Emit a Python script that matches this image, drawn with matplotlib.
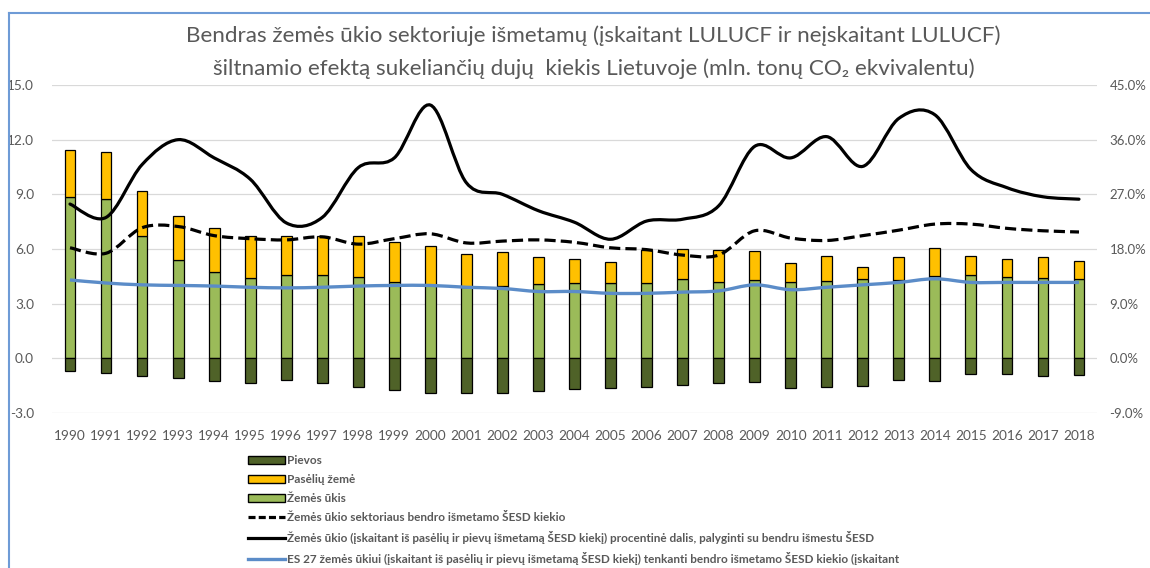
import matplotlib
matplotlib.use("Agg")
import matplotlib.pyplot as plt
import numpy as np
from matplotlib.path import Path
from matplotlib.patches import PathPatch, Patch
from matplotlib.lines import Line2D

years = list(range(1990, 2019))

# mln. t CO2 ekv. (left axis)
zemes_ukis = [8.84, 8.73, 6.69, 5.40, 4.73, 4.42, 4.58, 4.60, 4.49, 4.18, 4.04, 3.91, 3.96, 4.07, 4.13,
              4.16, 4.15, 4.33, 4.20, 4.31, 4.18, 4.25, 4.33, 4.31, 4.51, 4.58, 4.45, 4.42, 4.33]
paseliu_zeme = [2.62, 2.60, 2.49, 2.42, 2.42, 2.27, 2.11, 2.13, 2.20, 2.22, 2.11, 1.82, 1.86, 1.48, 1.32,
                1.13, 1.81, 1.67, 1.76, 1.56, 1.06, 1.37, 0.67, 1.25, 1.53, 1.04, 1.00, 1.14, 1.03]
pievos = [-0.67, -0.82, -0.95, -1.09, -1.24, -1.35, -1.18, -1.35, -1.60, -1.73, -1.91, -1.91, -1.91, -1.78, -1.67,
          -1.64, -1.58, -1.47, -1.38, -1.29, -1.64, -1.58, -1.51, -1.18, -1.22, -0.85, -0.85, -0.98, -0.93]

# % (right axis)
sektoriaus_dalis = [18.2, 17.3, 21.5, 21.7, 20.2, 19.7, 19.5, 20.0, 18.8, 19.7, 20.5, 19.0, 19.3, 19.5, 19.1,
                    18.2, 17.9, 17.0, 17.0, 21.0, 19.8, 19.4, 20.2, 21.1, 22.1, 22.1, 21.4, 21.0, 20.8]
su_lulucf_dalis = [25.4, 23.2, 31.9, 36.0, 33.0, 29.5, 22.3, 23.2, 31.4, 33.0, 41.7, 28.9, 27.0, 24.3, 22.4,
                   19.6, 22.6, 22.9, 25.1, 34.9, 33.0, 36.5, 31.6, 39.5, 40.1, 31.1, 28.1, 26.6, 26.2]
es27_dalis = [12.9, 12.4, 12.1, 12.0, 11.9, 11.7, 11.6, 11.7, 11.9, 12.0, 12.0, 11.7, 11.5, 11.0, 11.0,
              10.7, 10.7, 10.9, 11.1, 12.1, 11.3, 11.7, 12.1, 12.5, 13.1, 12.5, 12.5, 12.5, 12.5]

labels = ["Pievos", "Pasėlių žemė", "Žemės ūkis",
          "Žemės ūkio sektoriaus bendro išmetamo ŠESD kiekio",
          "Žemės ūkio (įskaitant iš pasėlių ir pievų išmetamą ŠESD kiekį) procentinė dalis, palyginti su bendru išmestu ŠESD",
          "ES 27 žemės ūkiui (įskaitant iš pasėlių ir pievų išmetamą ŠESD kiekį) tenkanti bendro išmetamo ŠESD kiekio (įskaitant"]

GRAY = "#595959"
plt.rcParams['font.family'] = ['Lato', 'DejaVu Sans']


def smooth_path(xs, ys):
    # Excel-like smoothed line: cubic bezier through every point
    pts = np.column_stack([xs, ys]).astype(float)
    n = len(pts)
    verts = [pts[0]]
    codes = [Path.MOVETO]
    for i in range(n - 1):
        p0 = pts[max(i - 1, 0)]
        p1 = pts[i]
        p2 = pts[i + 1]
        p3 = pts[min(i + 2, n - 1)]
        verts += [p1 + (p2 - p0) / 6.0, p2 - (p3 - p1) / 6.0, p2]
        codes += [Path.CURVE4] * 3
    return Path(verts, codes)


fig = plt.figure(figsize=(11.5, 5.68), dpi=100)
ax = fig.add_axes([52 / 1150, 1 - 413 / 568, 1045 / 1150, 328 / 568])
ax2 = ax.twinx()

x = np.arange(len(years))
w = 0.3
ax.bar(x, zemes_ukis, w, color="#9BBB59", edgecolor="black", linewidth=0.9, zorder=3)
ax.bar(x, paseliu_zeme, w, bottom=zemes_ukis, color="#FFC000", edgecolor="black", linewidth=0.9, zorder=3)
ax.bar(x, pievos, w, color="#4F6228", edgecolor="black", linewidth=0.9, zorder=3)

ax.set_xlim(-0.5, len(years) - 0.5)
ax.set_ylim(-3, 15)
ax.set_yticks(np.arange(-3, 15.1, 3))
ax.set_yticklabels([f"{v:.1f}" for v in np.arange(-3, 15.1, 3)])
ax.set_xticks(x)
ax.set_xticklabels([str(y) for y in years])
ax.grid(axis="y", color="#D9D9D9", linewidth=0.9, zorder=0)
ax.set_axisbelow(True)

ax2.set_ylim(-9, 45)
ax2.set_yticks(np.arange(-9, 45.1, 9))
ax2.set_yticklabels([f"{v:.1f}%" for v in np.arange(-9, 45.1, 9)])

ax2.add_patch(PathPatch(smooth_path(x, es27_dalis), fill=False, edgecolor="#5B8CC8", lw=2.4, zorder=4))
ax2.add_patch(PathPatch(smooth_path(x, su_lulucf_dalis), fill=False, edgecolor="black", lw=2.3, zorder=4,
                        capstyle="round"))
ax2.add_patch(PathPatch(smooth_path(x, sektoriaus_dalis), fill=False, edgecolor="black", lw=2.3, zorder=4,
                        linestyle=(0, (3.5, 1.6))))

for a in (ax, ax2):
    for s in a.spines.values():
        s.set_visible(False)
    a.tick_params(length=0, colors=GRAY, labelsize=9.8)
ax.tick_params(axis="y", pad=13)
ax2.tick_params(axis="y", pad=9, labelsize=9.5)
ax.tick_params(axis="x", pad=12)

# title
fig.text(593.5 / 1150, 1 - 42 / 568, "Bendras žemės ūkio sektoriuje išmetamų (įskaitant LULUCF ir neįskaitant LULUCF)",
         ha="center", va="baseline", fontsize=16.2, color=GRAY)
fig.text(593.5 / 1150, 1 - 75 / 568, "šiltnamio efektą sukeliančių dujų  kiekis Lietuvoje (mln. tonų CO₂ ekvivalentu)",
         ha="center", va="baseline", fontsize=16.2, color=GRAY)

# legend
handles = [Patch(facecolor="#4F6228", edgecolor="black"),
           Patch(facecolor="#FFC000", edgecolor="black"),
           Patch(facecolor="#9BBB59", edgecolor="black"),
           Line2D([], [], color="black", lw=2.3, linestyle=(0, (2.2, 1.0))),
           Line2D([], [], color="black", lw=2.3),
           Line2D([], [], color="#5B8CC8", lw=2.4)]
fig.legend(handles, labels, loc="upper left", bbox_to_anchor=(248 / 1150, 1 - 455 / 568), frameon=False,
           prop={"size": 8.5, "weight": "bold"}, labelcolor=GRAY, handlelength=3.1, handletextpad=0.2,
           labelspacing=0.68, borderpad=0, borderaxespad=0)

# blue chart frame (left and top edges)
fig.add_artist(Line2D([9 / 1150, 9 / 1150], [0, 1 - 13 / 568], color="#6E9BD6", lw=1.5, transform=fig.transFigure))
fig.add_artist(Line2D([9 / 1150, 1], [1 - 13 / 568, 1 - 13 / 568], color="#6E9BD6", lw=1.5, transform=fig.transFigure))

fig.savefig("out.png", dpi=100)
